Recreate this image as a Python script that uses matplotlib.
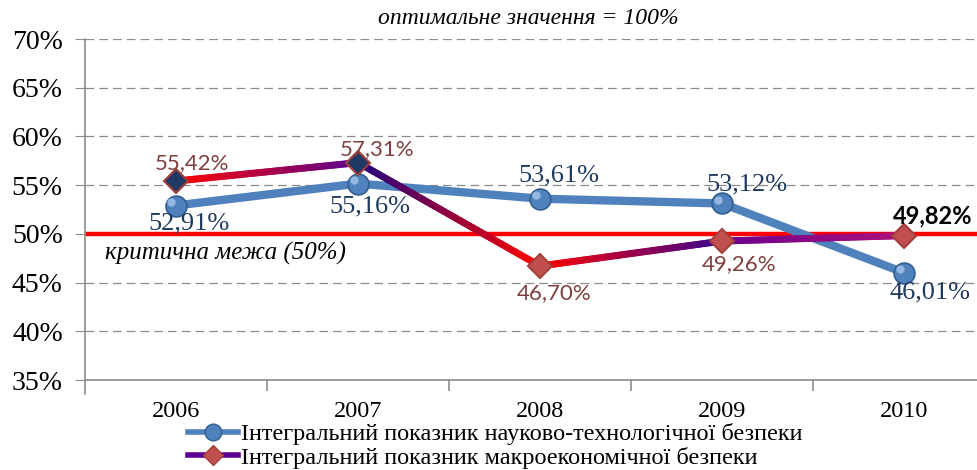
import numpy as np
import matplotlib.pyplot as plt
from matplotlib.collections import LineCollection
from matplotlib.colors import to_rgb

years = ['2006', '2007', '2008', '2009', '2010']
sci_tech = [52.91, 55.16, 53.61, 53.12, 46.01]
macro = [55.42, 57.31, 46.70, 49.26, 49.82]
sci_labels = ['52,91%', '55,16%', '53,61%', '53,12%', '46,01%']
macro_labels = ['55,42%', '57,31%', '46,70%', '49,26%', '49,82%']
critical = 50
y_ticks = [35, 40, 45, 50, 55, 60, 65, 70]

legend_names = ['Інтегральний показник науково-технологічної безпеки',
                'Інтегральний показник макроекономічної безпеки']

BLUE = '#4F81BD'
NAVY = '#1F3A5F'
BROWN = '#7F3F3F'

# gradient ends for each red-series segment (left, right)
seg_colors = [('#FF0000', '#5A0090'), ('#200080', '#FF0000'),
              ('#FF0000', '#3A0090'), ('#6A0090', '#B0107A')]

fig = plt.figure(figsize=(9.77, 4.70), dpi=100)
ax = fig.add_axes([85 / 977, 90 / 470, 1 - 85 / 977, 341 / 470])
x = np.arange(len(years))

ax.set_xlim(-0.5, 4.4)
ax.set_ylim(35, 70)

for v in y_ticks[1:]:
    ax.axhline(v, color='#8C8C8C', lw=0.9, ls=(0, (7, 4)), zorder=1)

# critical line
ax.axhline(critical, color='#FF0000', lw=3.2, zorder=2)

# blue series
ax.plot(x, sci_tech, color=BLUE, lw=6, zorder=3, solid_capstyle='round',
        solid_joinstyle='round')
ax.plot(x, sci_tech, 'o', ms=15, mfc=BLUE, mec='#345E91', mew=1.2, zorder=6)
ax.plot(x - 0.025, np.array(sci_tech) + 0.35, 'o', ms=6, mfc='#A9C6EA',
        mec='none', alpha=0.8, zorder=7)

# red series, gradient segments
for i, (c0, c1) in enumerate(seg_colors):
    t = np.linspace(0, 1, 60)
    xs = x[i] + (x[i + 1] - x[i]) * t
    ys = macro[i] + (macro[i + 1] - macro[i]) * t
    pts = np.column_stack([xs, ys]).reshape(-1, 1, 2)
    segs = np.concatenate([pts[:-1], pts[1:]], axis=1)
    a, b = np.array(to_rgb(c0)), np.array(to_rgb(c1))
    cols = [a + (b - a) * s for s in t[:-1]]
    lc = LineCollection(segs, colors=cols, linewidths=5, capstyle='round', zorder=4)
    ax.add_collection(lc)

marker_faces = ['#1F3864', '#1F3864', '#C0504D', '#C0504D', '#C0504D']
for xi, yi, fc in zip(x, macro, marker_faces):
    ax.plot(xi, yi, 'D', ms=12.5, mfc=fc, mec='#A0403C', mew=1.5, zorder=6)

# data labels (offsets in pixels)
serif = 'Liberation Serif'
sans = 'Lato'
blue_off = [(13, -18), (12, -23), (19, 23), (25, 19), (26, -20)]
for (dx, dy), xi, yi, s in zip(blue_off, x, sci_tech, sci_labels):
    ax.annotate(s, (xi, yi), xytext=(dx, dy), textcoords='offset pixels',
                ha='center', va='center', fontsize=19, color=NAVY,
                family=serif, zorder=8)
red_off = [(16, 18), (19, 14), (14, -27), (17, -23), (29, 20)]
for i, ((dx, dy), xi, yi, s) in enumerate(zip(red_off, x, macro, macro_labels)):
    last = i == len(macro) - 1
    ax.annotate(s, (xi, yi), xytext=(dx, dy), textcoords='offset pixels',
                ha='center', va='center', fontsize=17 if last else 16,
                color='black' if last else BROWN,
                fontweight='bold' if last else 'normal',
                family=sans, zorder=8)

ax.text((528 - 85) / 892, 1.06, 'оптимальне значення = 100%',
        transform=ax.transAxes, ha='center', va='center', style='italic',
        fontsize=17, family=serif)
ax.text(-0.39, critical - 2.0, 'критична межа (50%)', ha='left', va='center',
        style='italic', fontsize=18, family=serif)

# axes styling
for side in ['top', 'right']:
    ax.spines[side].set_visible(False)
for side in ['left', 'bottom']:
    ax.spines[side].set_color('#8C8C8C')
    ax.spines[side].set_linewidth(1.2)
ax.spines['left'].set_bounds(33.6, 70)

ax.set_yticks(y_ticks)
ax.set_yticklabels([f'{v}%' for v in y_ticks], family=serif, fontsize=20)
ax.tick_params(axis='y', length=7, color='#8C8C8C', pad=9)

ax.set_xticks(x)
ax.set_xticklabels(years, family=serif, fontsize=17.5)
ax.tick_params(axis='x', length=0, pad=15)
ax.set_xticks(x[:-1] + 0.5, minor=True)
ax.tick_params(axis='x', which='minor', length=8, color='#8C8C8C', width=1.2)

# legend
h1 = ax.plot([], [], color=BLUE, lw=4, marker='o', ms=12, mfc=BLUE, mec='#345E91')[0]
h2 = ax.plot([], [], color='#5A0090', lw=4, marker='D', ms=10, mfc='#C0504D', mec='#A0403C')[0]
fig.legend([h1, h2], legend_names, loc='center left',
           bbox_to_anchor=(188 / 977, 1 - 446 / 470), borderaxespad=0,
           ncol=1, frameon=False, prop={'family': serif, 'size': 17.5},
           handlelength=2.05, handletextpad=0.12, labelspacing=0.05, borderpad=0)

fig.savefig('out.png', dpi=100)
